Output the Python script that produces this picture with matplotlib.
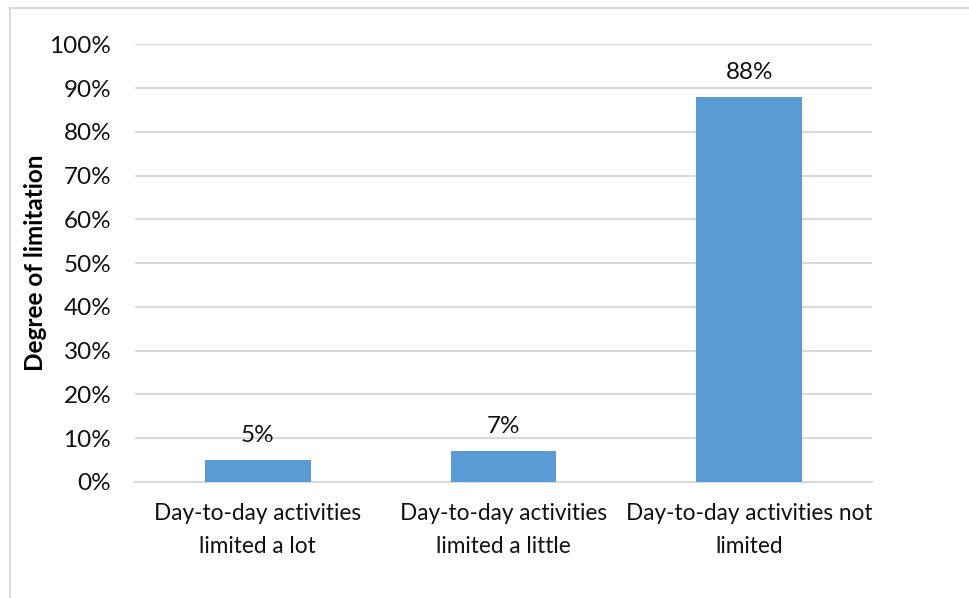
import matplotlib
matplotlib.use("Agg")
import matplotlib.pyplot as plt
from matplotlib.ticker import PercentFormatter
from matplotlib.lines import Line2D

categories = [
    "Day-to-day activities\nlimited a lot",
    "Day-to-day activities\nlimited a little",
    "Day-to-day activities not\nlimited",
]
shares = [0.05, 0.07, 0.88]
value_labels = ["5%", "7%", "88%"]
y_ticks = [0.0, 0.1, 0.2, 0.3, 0.4, 0.5, 0.6, 0.7, 0.8, 0.9, 1.0]
y_label = "Degree of limitation"

plt.rcParams["font.family"] = ["Lato", "DejaVu Sans"]

fig = plt.figure(figsize=(9.7, 5.98), dpi=100)
ax = fig.add_axes([0.139, 0.194, 0.760, 0.732])

x = range(len(categories))
ax.bar(x, shares, width=0.43, color="#5B9BD5", zorder=3)

for xi, v, lab in zip(x, shares, value_labels):
    ax.annotate(lab, (xi, v), xytext=(0, 10), textcoords="offset points",
                ha="center", va="bottom", fontsize=17.5, color="#111111")

ax.set_xlim(-0.5, len(categories) - 0.5)
ax.set_ylim(0, 1.0)
ax.set_yticks(y_ticks)
ax.yaxis.set_major_formatter(PercentFormatter(1.0, decimals=0))
ax.set_xticks(list(x))
ax.set_xticklabels(categories, fontsize=16.3, color="#111111", linespacing=1.7)
ax.tick_params(axis="y", labelsize=17.5, labelcolor="#111111", length=0, pad=17)
ax.tick_params(axis="x", length=0, pad=15)

ax.grid(axis="y", color="#D9D9D9", linewidth=1.5, zorder=0)
ax.set_axisbelow(True)
for s in ["top", "right", "left"]:
    ax.spines[s].set_visible(False)
ax.spines["bottom"].set_color("#D9D9D9")
ax.spines["bottom"].set_linewidth(1.5)

ax.set_ylabel(y_label, fontsize=17.5, fontweight="bold", color="#000000", labelpad=1.5)

# chart frame (left and top edges)
fig.add_artist(Line2D([10.5 / 970, 10.5 / 970], [0, 1 - 8 / 598],
                      transform=fig.transFigure, color="#D9D9D9", linewidth=1.5))
fig.add_artist(Line2D([10.5 / 970, 1], [1 - 8 / 598, 1 - 8 / 598],
                      transform=fig.transFigure, color="#D9D9D9", linewidth=1.5))

fig.savefig("out.png", dpi=100, facecolor="white")
